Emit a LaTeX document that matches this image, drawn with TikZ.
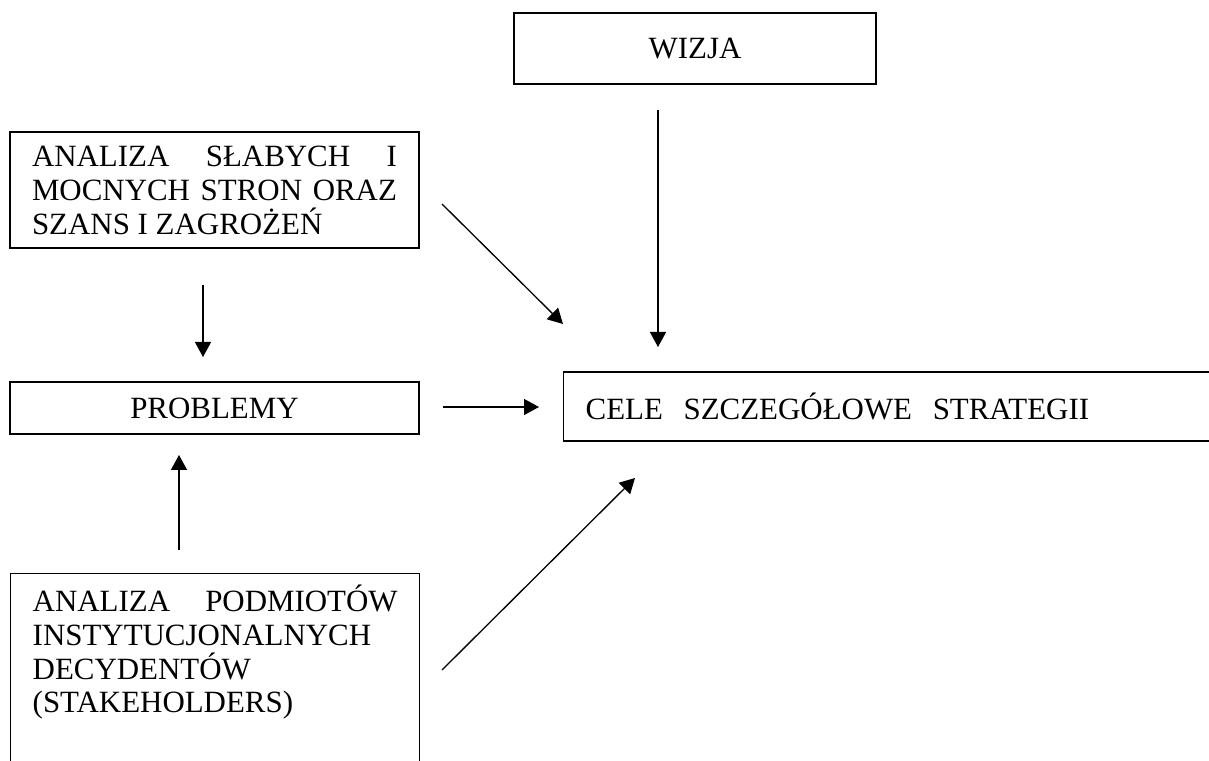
\documentclass[tikz,border=0pt]{standalone}
\usepackage{fontspec}
\setmainfont{Liberation Serif}
\usetikzlibrary{arrows.meta}
\newcommand{\boxfont}{\fontsize{17.6pt}{19.3pt}\selectfont}
\newcommand{\spreadline}[1]{\makebox[7.3cm][s]{#1}}

\begin{document}
\begin{tikzpicture}[
  box/.style={draw, line width=0.8pt, inner xsep=0.44cm, inner ysep=0pt, font=\boxfont},
  arr/.style={-{Triangle[length=0.3cm, width=0.32cm]}, line width=0.75pt}
]
\useasboundingbox (0,0) rectangle (24.18,-15.22);
% Boxes
\node[box, minimum width=7.24cm, minimum height=1.42cm] (wizja) at (13.9,-0.97) {WIZJA};
\node[box, minimum height=2.32cm] (swot) at (4.29,-3.8)
  {\parbox{7.3cm}{\spreadline{ANALIZA SŁABYCH I}\\ \spreadline{MOCNYCH STRON ORAZ}\\ SZANS I ZAGROŻEŃ}};
\node[box, minimum width=8.18cm, minimum height=1.04cm] (problemy) at (4.29,-8.16) {PROBLEMY};
\node[box, anchor=west, minimum height=1.38cm, text width=13cm, align=left] (cele) at (11.26,-8.13)
  {CELE\ \ SZCZEGÓŁOWE\ \ STRATEGII};
\node[box, anchor=north west, inner ysep=0.22cm] (stake) at (0.2,-11.46)
  {\parbox[t][3.8cm][t]{7.3cm}{\spreadline{ANALIZA PODMIOTÓW}\\ INSTYTUCJONALNYCH\\ DECYDENTÓW\\ (STAKEHOLDERS)}};
% Arrow ends
\coordinate (wizja-out) at (13.16,-2.2);
\coordinate (cele-top) at (13.16,-6.94);
\coordinate (swot-out) at (8.84,-4.08);
\coordinate (cele-nw) at (11.26,-6.48);
\coordinate (swot-down) at (4.06,-5.7);
\coordinate (problemy-top) at (4.06,-7.14);
\coordinate (problemy-out) at (8.86,-8.14);
\coordinate (cele-left) at (10.78,-8.14);
\coordinate (stake-up) at (3.58,-11.0);
\coordinate (problemy-bottom) at (3.58,-9.1);
\coordinate (stake-out) at (8.84,-13.4);
\coordinate (cele-sw) at (12.7,-9.56);
% Arrows
\draw[arr] (wizja-out) -- (cele-top);
\draw[arr] (swot-out) -- (cele-nw);
\draw[arr] (swot-down) -- (problemy-top);
\draw[arr] (problemy-out) -- (cele-left);
\draw[arr] (stake-up) -- (problemy-bottom);
\draw[arr] (stake-out) -- (cele-sw);
\end{tikzpicture}
\end{document}
